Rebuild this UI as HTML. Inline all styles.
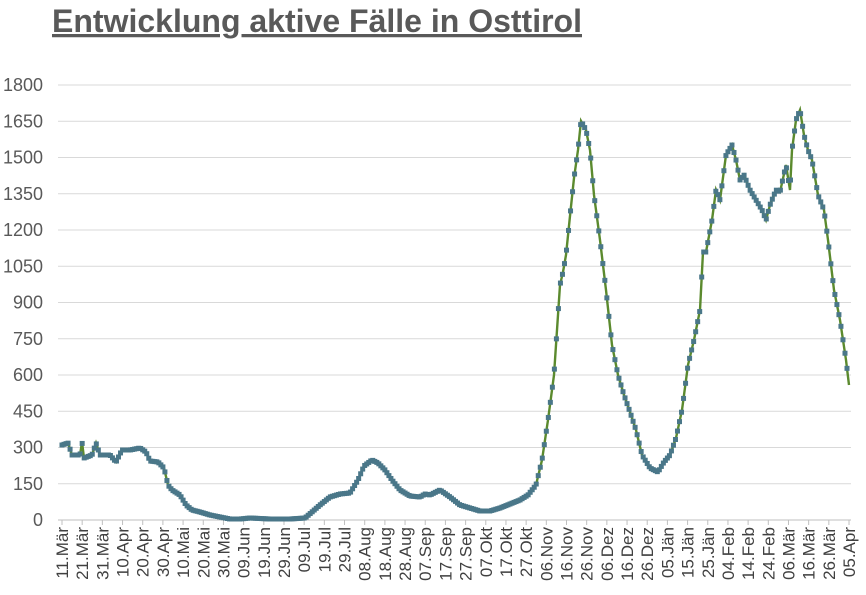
<!DOCTYPE html>
<html><head><meta charset="utf-8"><style>
body{margin:0;background:#fff;}
svg{display:block;font-family:"Liberation Sans",Arial,sans-serif;}
</style></head><body>
<svg id="s" width="866" height="595" xmlns="http://www.w3.org/2000/svg">
<text x="52" y="32" font-size="32.5" font-weight="bold" fill="#595959" text-decoration="underline" textLength="530" lengthAdjust="spacingAndGlyphs">Entwicklung aktive Fälle in Osttirol</text>
<g id="grid"></g><g id="lab"></g><g id="ser"></g>
</svg>
<script>
var NS="http://www.w3.org/2000/svg",s=document.getElementById('s');
function el(t,a,p,txt){var e=document.createElementNS(NS,t);for(var k in a)e.setAttribute(k,a[k]);if(txt)e.textContent=txt;document.getElementById(p).appendChild(e);return e;}
for(var i=0;i<=12;i++){var y=520-i*36.25;
 el('line',{x1:58,x2:851,y1:y,y2:y,stroke:i?'#d9d9d9':'#bfbfbf','stroke-width':1},'grid');
 el('text',{x:43,y:y+6,'font-size':18,fill:'#595959','text-anchor':'end'},'lab',String(i*150));}
var labs=["11.Mär","21.Mär","31.Mär","10.Apr","20.Apr","30.Apr","10.Mai","20.Mai","30.Mai","09.Jun","19.Jun","29.Jun","09.Jul","19.Jul","29.Jul","08.Aug","18.Aug","28.Aug","07.Sep","17.Sep","27.Sep","07.Okt","17.Okt","27.Okt","06.Nov","16.Nov","26.Nov","06.Dez","16.Dez","26.Dez","05.Jän","15.Jän","25.Jän","04.Feb","14.Feb","24.Feb","06.Mär","16.Mär","26.Mär","05.Apr"];
for(var j=0;j<labs.length;j++){var x=62+j*20.18;
 el('line',{x1:x,x2:x,y1:520,y2:525,stroke:'#bfbfbf'},'grid');
 el('text',{x:0,y:0,'font-size':17,fill:'#404040','text-anchor':'end',transform:'translate('+(x+6)+',527) rotate(-90)'},'lab',labs[j]);}
var P=[62,445,68,443,72,455,80,455,82,442,84,458,92,455,96,443,100,455,110,455,116,462,122,450,130,450,140,448,146,452,150,461,158,462,164,468,168,485,172,490,180,495,186,505,192,510,200,512,210,515,220,517,230,519,240,519,250,518,270,519,290,519,305,518,312,512,320,505,330,497,340,494,350,493,358,480,364,466,372,460,378,463,385,470,392,480,400,490,410,496,420,497,425,494,430,495,440,490,450,497,460,505,470,508,480,511,490,511,500,508,510,504,520,500,528,495,536,485,542,460,548,420,554,375,560,285,563,272,566,255,570,216,574,178,578,150,581,121,586,130,590,150,594,195,600,240,606,290,612,345,618,375,624,395,630,412,636,430,642,455,650,468,658,472,664,462,670,455,676,438,682,410,688,365,694,340,700,310,703,252,706,252,712,220,716,190,720,200,726,155,732,145,736,160,740,180,744,175,750,190,756,200,762,210,766,220,770,205,776,190,780,192,786,165,790,190,792,150,796,120,800,110,804,135,808,150,812,160,818,195,824,210,828,240,834,290,840,320,846,360,849,385];
var d="";for(var k=0;k<P.length;k+=2)d+=(k?"L":"M")+P[k]+","+P[k+1];
el('path',{d:d,fill:'none',stroke:'#5b8a2e','stroke-width':2.4},'ser');
var seg=0;for(var x=62;x<=849;x+=2.018){while(seg<P.length-4&&P[seg+2]<x)seg+=2;
 var x0=P[seg],y0=P[seg+1],x1=P[seg+2],y1=P[seg+3],t=(x-x0)/(x1-x0);if(t>1)t=1;
 var y=y0+(y1-y0)*t;el('rect',{x:x-2.5,y:y-2.5,width:5,height:5,fill:'#4a7789'},'ser');}
</script>
</body></html>
